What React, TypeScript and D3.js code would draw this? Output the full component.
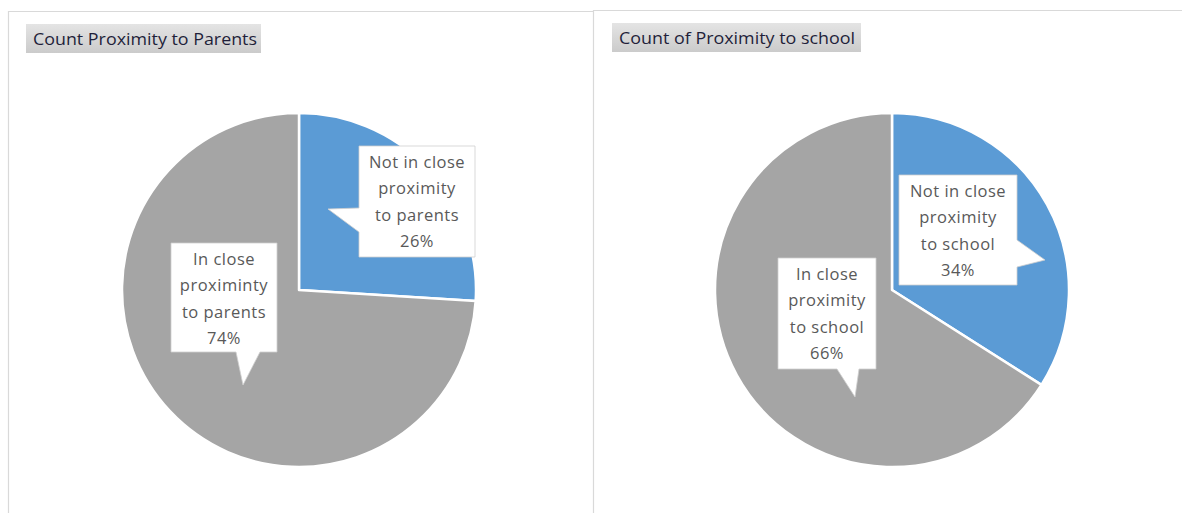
import React from "react";
import * as d3 from "d3";

const parentCategories = ["Not in close proximity to parents", "In close proximinty to parents"];
const parentValues = [26, 74];
const schoolCategories = ["Not in close proximity to school", "In close proximity to school"];
const schoolValues = [34, 66];
const sliceColors = ["#5b9bd5", "#a5a5a5"];
const titles = ["Count Proximity to Parents", "Count of Proximity to school"];

type Callout = { lines: string[]; box: [number, number, number, number]; tail: [number, number][]; side: string };

function calloutPath(c: Callout) {
  const [x0, y0, x1, y1] = c.box;
  const t = c.tail;
  if (c.side === "bottom") {
    return `M${x0},${y0}L${x1},${y0}L${x1},${y1}L${t[2][0]},${y1}L${t[1][0]},${t[1][1]}L${t[0][0]},${y1}L${x0},${y1}Z`;
  }
  if (c.side === "left") {
    return `M${x0},${y0}L${x1},${y0}L${x1},${y1}L${x0},${y1}L${x0},${t[2][1]}L${t[1][0]},${t[1][1]}L${x0},${t[0][1]}Z`;
  }
  return `M${x0},${y0}L${x1},${y0}L${x1},${t[0][1]}L${t[1][0]},${t[1][1]}L${x1},${t[2][1]}L${x1},${y1}L${x0},${y1}Z`;
}

function Pie({ cx, cy, r, values, labels, callouts }: { cx: number; cy: number; r: number; values: number[]; labels: string[]; callouts: Callout[] }) {
  const pie = d3.pie<number>().sort(null).value((d) => d).startAngle(0).endAngle(2 * Math.PI);
  const arc = d3.arc<d3.PieArcDatum<number>>().innerRadius(0).outerRadius(r);
  const arcs = pie(values);
  const total = d3.sum(values);
  return (
    <g>
      <g transform={`translate(${cx},${cy})`}>
        {arcs.map((a, i) => (
          <path key={i} d={arc(a) || ""} fill={sliceColors[i]} stroke="#fff" strokeWidth={2.5} strokeLinejoin="round" />
        ))}
      </g>
      {callouts.map((c, i) => {
        const midX = (c.box[0] + c.box[2]) / 2;
        const pct = Math.round((values[i] / total) * 100) + "%";
        const lines = [...c.lines, pct];
        return (
          <g key={i}>
            <path d={calloutPath(c)} fill="#fff" stroke="#cfcfcf" strokeWidth={0.8} />
            <text textAnchor="middle" fontFamily="'Open Sans', 'Noto Sans', sans-serif" fontSize={16.5} letterSpacing={0.5} fill="#595959">
              {lines.map((l, j) => (
                <tspan key={j} x={midX} y={c.box[1] + 22 + j * 26.3}>{l}</tspan>
              ))}
            </text>
          </g>
        );
      })}
      <title>{labels.join(", ")}</title>
    </g>
  );
}

export default function App() {
  const W = 1182, H = 513;
  const parentCallouts: Callout[] = [
    { lines: ["Not in close", "proximity", "to parents"], box: [359, 146, 475, 257], tail: [[359, 208], [328, 209], [359, 232]], side: "left" },
    { lines: ["In close", "proximinty", "to parents"], box: [171, 243, 277, 352], tail: [[236, 352], [243, 385], [260, 352]], side: "bottom" },
  ];
  const schoolCallouts: Callout[] = [
    { lines: ["Not in close", "proximity", "to school"], box: [899, 175, 1017, 285], tail: [[1017, 240], [1045, 260], [1017, 267]], side: "right" },
    { lines: ["In close", "proximity", "to school"], box: [778, 258, 876, 369], tail: [[837, 369], [855, 397], [859, 369]], side: "bottom" },
  ];
  return (
    <svg width={W} height={H} style={{ position: "absolute", left: 0, top: 0, background: "#fff" }}>
      <defs>
        <linearGradient id="tg" x1="0" y1="0" x2="0" y2="1">
          <stop offset="0" stopColor="#e4e4e4" />
          <stop offset="1" stopColor="#cbcbcb" />
        </linearGradient>
      </defs>
      <line x1={8.5} y1={11.5} x2={593} y2={11.5} stroke="#d9d9d9" strokeWidth={1.2} />
      <line x1={8.5} y1={11} x2={8.5} y2={513} stroke="#d9d9d9" strokeWidth={1.2} />
      <line x1={593.5} y1={10.5} x2={1182} y2={10.5} stroke="#d9d9d9" strokeWidth={1.2} />
      <line x1={593.5} y1={10} x2={593.5} y2={513} stroke="#d9d9d9" strokeWidth={1.2} />
      <rect x={26} y={24} width={235} height={29} fill="url(#tg)" />
      <text x={33} y={45} fontFamily="'Open Sans', 'Noto Sans', sans-serif" fontSize={15.5} fill="#1f1f3a" textLength={224} lengthAdjust="spacingAndGlyphs">{titles[0]}</text>
      <rect x={612} y={23} width={249} height={29} fill="url(#tg)" />
      <text x={619} y={44} fontFamily="'Open Sans', 'Noto Sans', sans-serif" fontSize={15.5} fill="#1f1f3a" textLength={236} lengthAdjust="spacingAndGlyphs">{titles[1]}</text>
      <Pie cx={299} cy={290} r={177} values={parentValues} labels={parentCategories} callouts={parentCallouts} />
      <Pie cx={892} cy={290} r={177} values={schoolValues} labels={schoolCategories} callouts={schoolCallouts} />
    </svg>
  );
}
